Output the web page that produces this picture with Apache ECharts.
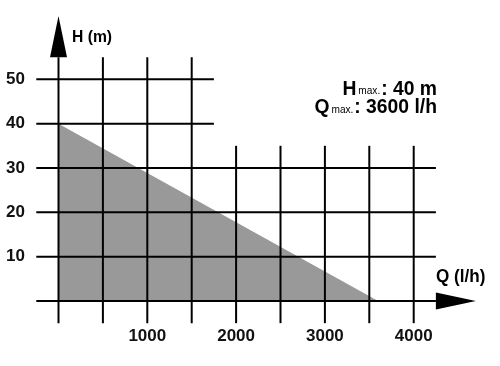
<!DOCTYPE html>
<html>
<head>
<meta charset="utf-8">
<script src="https://cdn.jsdelivr.net/npm/echarts@6/dist/echarts.min.js"></script>
<style>
html,body{margin:0;padding:0;background:#fff;}
#c{width:500px;height:366px;}
</style>
</head>
<body>
<div id="c"></div>
<script>
// Data
const qTicks = [0, 500, 1000, 1500, 2000, 2500, 3000, 3500, 4000];
const hTicks = [0, 10, 20, 30, 40, 50];
const qLabels = [1000, 2000, 3000, 4000];
const hLabels = [10, 20, 30, 40, 50];
const curveQ = [0, 3600];
const curveH = [40, 0];

const FONT = "'Liberation Sans', Arial, sans-serif";

// gridline extents (data units)
const segs = [];
qTicks.forEach(q => {
  const top = q <= 1500 ? 55 : 35;
  segs.push([q, -5, q, top]);
});
hTicks.forEach(h => {
  const right = h >= 40 ? 1750 : 4250;
  segs.push([-250, h, right, h]);
});

const chart = echarts.init(document.getElementById('c'), null, {renderer: 'canvas'});
chart.setOption({
  animation: false,
  backgroundColor: '#fff',
  grid: {left: 58.5, top: 79.3, width: 355.2, height: 221.7, containLabel: false},
  xAxis: {
    type: 'value', min: 0, max: 4000, interval: 1000,
    axisLine: {show: false}, axisTick: {show: false}, splitLine: {show: false},
    axisLabel: {
      margin: 27, color: '#111', fontFamily: FONT, fontWeight: 'bold', fontSize: 17,
      formatter: v => qLabels.indexOf(v) >= 0 ? String(v) : ''
    }
  },
  yAxis: {
    type: 'value', min: 0, max: 50, interval: 10,
    axisLine: {show: false}, axisTick: {show: false}, splitLine: {show: false},
    axisLabel: {
      margin: 33.5, color: '#111', fontFamily: FONT, fontWeight: 'bold', fontSize: 17,
      formatter: v => hLabels.indexOf(v) >= 0 ? String(v) : ''
    }
  },
  graphic: [
    {type: 'text', x: 72, y: 29, scaleX: 0.95,
      style: {text: 'H (m)', font: "bold 16.5px " + FONT, fill: '#000'}},
    {type: 'text', x: 436, y: 268, scaleX: 0.95,
      style: {text: 'Q (l/h)', font: "bold 18px " + FONT, fill: '#000'}},
    {type: 'text', x: 437, y: 79.5, scaleX: 0.92,
      style: {
        text: '{b|H}{s|max.}{b|: 40 m}\n{b|Q}{s|max.}{b|: 3600 l/h}',
        align: 'right', verticalAlign: 'top',
        rich: {
          b: {fontFamily: FONT, fontWeight: 'bold', fontSize: 21, fill: '#000', lineHeight: 18.5},
          s: {fontFamily: FONT, fontSize: 11, fill: '#000', lineHeight: 18.5, padding: [5, 1, 0, 2]}
        }
      }}
  ],
  series: [
    {
      type: 'line', data: curveQ.map((q, i) => [q, curveH[i]]),
      symbol: 'none', lineStyle: {width: 0}, areaStyle: {color: '#999999', opacity: 1},
      z: 1, silent: true
    },
    {
      type: 'custom', clip: false, z: 3, silent: true,
      data: segs,
      renderItem: (params, api) => {
        const p1 = api.coord([api.value(0), api.value(1)]);
        const p2 = api.coord([api.value(2), api.value(3)]);
        return {type: 'line', shape: {x1: p1[0], y1: p1[1], x2: p2[0], y2: p2[1]},
          style: {stroke: '#000', lineWidth: 2}};
      }
    },
    {
      type: 'custom', clip: false, z: 4, silent: true,
      data: [[0, 55, 0, 64.3], [4250, 0, 4700, 0]],
      renderItem: (params, api) => {
        const b = api.coord([api.value(0), api.value(1)]);
        const t = api.coord([api.value(2), api.value(3)]);
        const hw = 8.5;
        let pts;
        if (Math.abs(b[0] - t[0]) < 1) {
          pts = [[b[0] - hw, b[1]], [b[0] + hw, b[1]], [t[0], t[1]]];
        } else {
          pts = [[b[0], b[1] - hw], [b[0], b[1] + hw], [t[0], t[1]]];
        }
        return {type: 'polygon', shape: {points: pts}, style: {fill: '#000'}};
      }
    }
  ]
});
</script>
</body>
</html>
